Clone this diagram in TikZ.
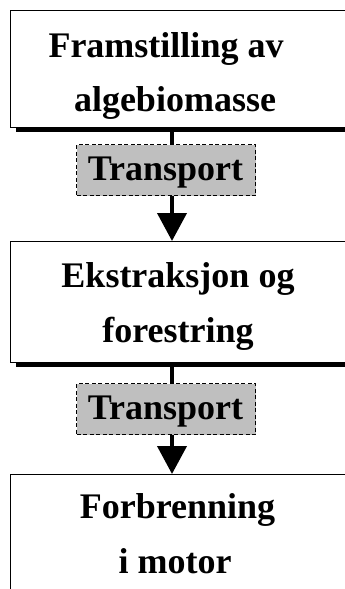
\documentclass[tikz,border=0pt]{standalone}
\usepackage{fontspec}
\setmainfont{Liberation Serif}
\usetikzlibrary{arrows.meta}
\tikzset{
  procbox/.style={draw=black, line width=1.1pt, fill=white, anchor=north west, inner sep=0pt},
  shadowbox/.style={fill=black, draw=none, anchor=north west, inner sep=0pt},
  transbox/.style={draw=black, dash pattern=on 4pt off 2.5pt, line width=1.2pt, fill=black!25, anchor=north west, inner sep=0pt, minimum width=179pt, minimum height=51pt},
  boxtext/.style={font=\fontsize{36}{40}\selectfont\bfseries, anchor=base, inner sep=0pt},
  conn/.style={line width=4pt},
  arr/.style={line width=4pt, -{Triangle[width=29pt,length=28pt]}}
}
\begin{document}
\begin{tikzpicture}[x=1pt,y=-1pt]
\useasboundingbox (0,0) rectangle (345,589);
\clip (0,0) rectangle (345,589);
% box 1
\node[shadowbox, minimum width=336pt, minimum height=117pt] (s1) at (16,15) {};
\node[procbox, minimum width=336pt, minimum height=117pt] (b1) at (10,10) {};
\node[boxtext] (t1a) at (166,57) {Framstilling av};
\node[boxtext] (t1b) at (175,111) {algebiomasse};
% transport 1
\node[transbox] (tr1) at (76,144) {};
\node[boxtext] (tt1) at (165.5,180) {Transport};
% box 2
\node[shadowbox, minimum width=336pt, minimum height=121pt] (s2) at (16,246) {};
\node[procbox, minimum width=336pt, minimum height=121pt] (b2) at (10,241) {};
\node[boxtext] (t2a) at (178,287) {Ekstraksjon og};
\node[boxtext] (t2b) at (178,342) {forestring};
% transport 2
\node[transbox] (tr2) at (76,383) {};
\node[boxtext] (tt2) at (165.5,419) {Transport};
% box 3
\node[shadowbox, minimum width=336pt, minimum height=140pt] (s3) at (16,479) {};
\node[procbox, minimum width=336pt, minimum height=140pt] (b3) at (10,474) {};
\node[boxtext] (t3a) at (177.5,518) {Forbrenning};
\node[boxtext] (t3b) at (175,573) {i motor};
% connectors
\draw[conn] (b1.south -| 172,0) -- (tr1.north -| 172,0);
\draw[arr] (tr1.south -| 172,0) -- (b2.north -| 172,0);
\draw[conn] (b2.south -| 172,0) -- (tr2.north -| 172,0);
\draw[arr] (tr2.south -| 172,0) -- (b3.north -| 172,0);
\end{tikzpicture}
\end{document}
